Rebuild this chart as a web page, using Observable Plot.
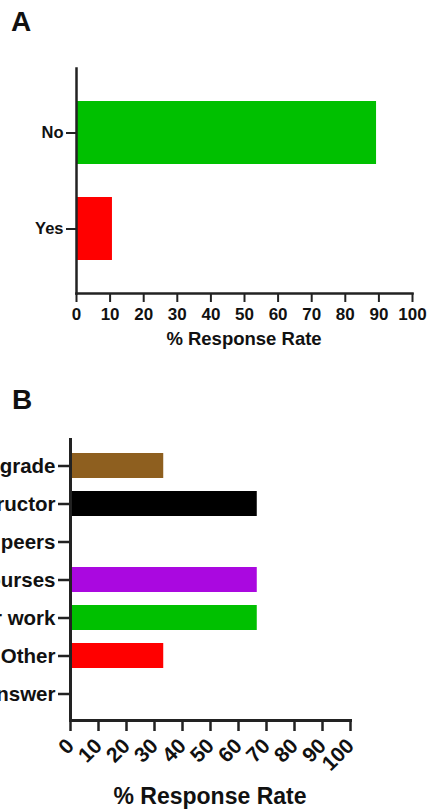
<!DOCTYPE html>
<html>
<head>
<meta charset="utf-8">
<script src="https://cdn.jsdelivr.net/npm/d3@7"></script>
<script src="https://cdn.jsdelivr.net/npm/@observablehq/plot@0.6"></script>
<style>
  html, body { margin: 0; padding: 0; background: #fff; }
  body { width: 427px; height: 809px; overflow: hidden; position: relative; font-family: "Liberation Sans", Arial, sans-serif; font-weight: bold; color: #111; }
  .panel { position: absolute; left: 0; z-index: 1; }
  .letter { position: absolute; font-size: 28px; font-weight: bold; line-height: 1; z-index: 2; }
  .title { position: absolute; font-weight: bold; white-space: nowrap; transform: translateX(-50%); line-height: 1; z-index: 2; }
  svg { overflow: hidden; }
</style>
</head>
<body>
<div class="letter" style="left:11px;top:8px;">A</div>
<div id="a" class="panel" style="top:0px;"></div>
<div class="title" style="left:244px;top:330px;font-size:18.5px;">% Response Rate</div>
<div class="letter" style="left:12px;top:386px;">B</div>
<div id="b" class="panel" style="top:360px;"></div>
<div class="title" style="left:210px;top:785px;font-size:23px;">% Response Rate</div>
<script>
// Panel A data
const categoriesA = ["No", "Yes"];
const valuesA = [89.3, 10.7];
// Panel B data
const categoriesB = ["Final grade", "Instructor", "Feedback from peers", "Other courses", "Your work", "Other", "Prefer not to answer"];
const valuesB = [33.3, 66.7, 0, 66.7, 66.7, 33.3, 0];
const xTicks = [0, 10, 20, 30, 40, 50, 60, 70, 80, 90, 100];

const paletteA = ["#00c000", "#ff0000"];
const paletteB = ["#8e5f1f", "#000000", "#ffffff", "#aa08e0", "#00c000", "#ff0000", "#ffffff"];

const dataA = categoriesA.map((c, i) => ({cat: c, v: valuesA[i]}));
const dataB = categoriesB.map((c, i) => ({cat: c, v: valuesB[i]}));

const axisColor = "#222";

const plotA = Plot.plot({
  width: 427, height: 360,
  marginTop: 68, marginBottom: 67, marginLeft: 76, marginRight: 15,
  style: {fontFamily: "Liberation Sans, Arial, sans-serif", fontWeight: "bold", color: "#111", background: "#fff", overflow: "hidden"},
  x: {domain: [0, 100]},
  y: {domain: categoriesA, padding: 0.34},
  color: {domain: categoriesA, range: paletteA},
  marks: [
    Plot.barX(dataA, {y: "cat", x: "v", fill: "cat"}),
    Plot.axisX({ticks: xTicks, tickSize: 9, tickPadding: 5, strokeWidth: 2, stroke: axisColor, fontSize: 17, label: null, fill: "#111"}),
    Plot.axisY({tickSize: 10, tickPadding: 3, strokeWidth: 2, stroke: axisColor, fontSize: 16.5, label: null, fill: "#111"}),
    Plot.frame({anchor: "left", stroke: axisColor, strokeWidth: 2.5}),
    Plot.frame({anchor: "bottom", stroke: axisColor, strokeWidth: 2.5})
  ]
});
document.getElementById("a").append(plotA);

const plotB = Plot.plot({
  width: 427, height: 449,
  marginTop: 79, marginBottom: 89, marginLeft: 70, marginRight: 77,
  style: {fontFamily: "Liberation Sans, Arial, sans-serif", fontWeight: "bold", color: "#111", background: "#fff", overflow: "hidden"},
  x: {domain: [0, 100]},
  y: {domain: categoriesB, padding: 0.34},
  color: {domain: categoriesB, range: paletteB},
  marks: [
    Plot.barX(dataB, {y: "cat", x: "v", fill: "cat"}),
    Plot.axisX({ticks: xTicks, tickSize: 11, tickPadding: 11, tickRotate: -45, strokeWidth: 2.5, stroke: axisColor, fontSize: 21, label: null, fill: "#111"}),
    Plot.axisY({tickSize: 12, tickPadding: 3, strokeWidth: 2.5, stroke: axisColor, fontSize: 20.5, label: null, fill: "#111"}),
    Plot.frame({anchor: "left", stroke: axisColor, strokeWidth: 3}),
    Plot.frame({anchor: "bottom", stroke: axisColor, strokeWidth: 3})
  ]
});
document.getElementById("b").append(plotB);
</script>
</body>
</html>
